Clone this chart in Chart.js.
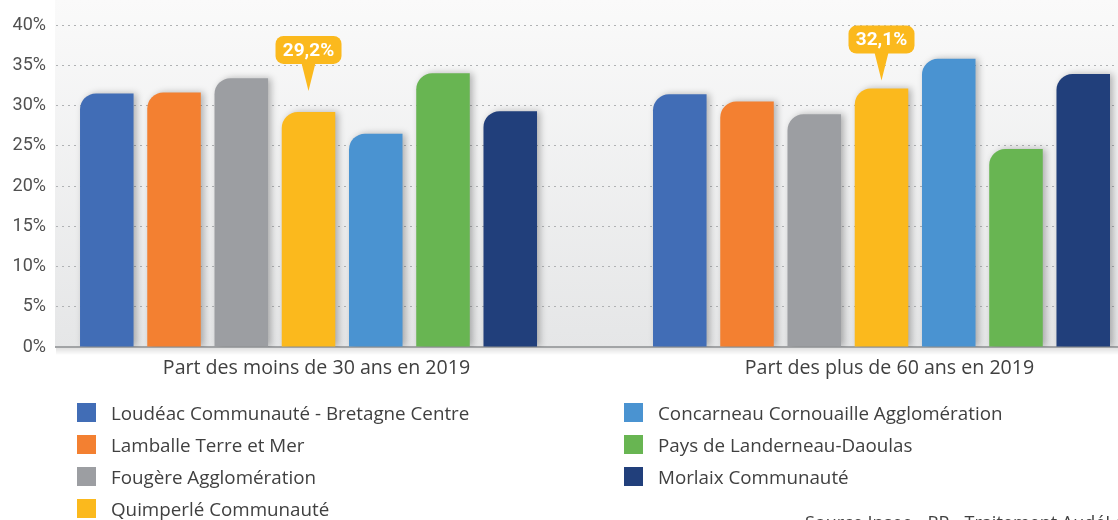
<!DOCTYPE html>
<html>
<head>
<meta charset="utf-8">
<script src="https://cdn.jsdelivr.net/npm/chart.js@4/dist/chart.umd.min.js"></script>
<style>
html,body{margin:0;padding:0;background:#fff;overflow:hidden;}
#wrap{position:relative;width:1118px;height:520px;overflow:hidden;}
#c{position:absolute;left:0;top:0;}
.item{position:absolute;display:flex;align-items:center;white-space:nowrap;font-family:'Open Sans',sans-serif;font-size:18.8px;color:#404040;height:19px;}
.sw{width:19px;height:19px;margin-right:15px;flex:none;}
#source{position:absolute;left:805px;top:510px;font-family:'Open Sans',sans-serif;font-size:18px;color:#404040;white-space:nowrap;}
</style>
</head>
<body>
<div id="wrap">
<canvas id="c" width="1118" height="520"></canvas>
<div id="legend"></div>
<div id="source">Source Insee - RP - Traitement AudéLor</div>
</div>
<script>
// ---- data ----
const categories = ['Part des moins de 30 ans en 2019', 'Part des plus de 60 ans en 2019'];
const territories = [
  'Loudéac Communauté - Bretagne Centre',
  'Lamballe Terre et Mer',
  'Fougère Agglomération',
  'Quimperlé Communauté',
  'Concarneau Cornouaille Agglomération',
  'Pays de Landerneau-Daoulas',
  'Morlaix Communauté'
];
const loudeac    = [31.5, 31.4];
const lamballe   = [31.6, 30.5];
const fougere    = [33.4, 28.9];
const quimperle  = [29.2, 32.1];
const concarneau = [26.5, 35.8];
const landerneau = [34.0, 24.6];
const morlaix    = [29.3, 33.9];
const yTicks = [0, 5, 10, 15, 20, 25, 30, 35, 40];
const highlighted = [[3, 0], [3, 1]]; // [series index, category index]

const seriesValues = [loudeac, lamballe, fougere, quimperle, concarneau, landerneau, morlaix];
const colors = ['#416db6', '#f38031', '#9c9ea2', '#fbb91d', '#4a93d1', '#68b552', '#213f7b'];
const calloutGaps = [21, 8];

const datasets = territories.map((name, i) => ({
  label: name,
  data: seriesValues[i].map((v, j) => ({x: j + 1, y: v})),
  backgroundColor: colors[i],
  borderRadius: {topLeft: 16, topRight: 0, bottomLeft: 0, bottomRight: 0},
  borderSkipped: 'start'
}));

const FONT = "'Open Sans', sans-serif";
const NUMFONT = 'Roboto, sans-serif';

const bgPlugin = {
  id: 'bg',
  beforeDraw(chart) {
    const {ctx, chartArea: a} = chart;
    const g = ctx.createLinearGradient(0, 0, 0, a.bottom);
    g.addColorStop(0, '#fafafa');
    g.addColorStop(1, '#e5e6e7');
    ctx.save();
    ctx.fillStyle = g;
    ctx.fillRect(a.left - 1, 0, a.right - a.left + 1, a.bottom);
    ctx.restore();
  }
};

const shadowPlugin = {
  id: 'barShadow',
  beforeDatasetsDraw(chart) {
    const ctx = chart.ctx;
    ctx.save();
    ctx.shadowColor = 'rgba(0,0,0,0.28)';
    ctx.shadowBlur = 7;
    ctx.shadowOffsetX = 3;
    ctx.shadowOffsetY = 0;
  },
  afterDatasetsDraw(chart) {
    chart.ctx.restore();
  }
};

const calloutPlugin = {
  id: 'callouts',
  afterDraw(chart) {
    const {ctx, chartArea: a} = chart;
    const sg = ctx.createLinearGradient(0, a.bottom + 1, 0, a.bottom + 8);
    sg.addColorStop(0, 'rgba(0,0,0,0.12)');
    sg.addColorStop(1, 'rgba(0,0,0,0)');
    ctx.save();
    ctx.fillStyle = sg;
    ctx.fillRect(a.left, a.bottom + 1, a.right - a.left, 7);
    ctx.restore();

    highlighted.forEach(([s, g], k) => {
      const el = chart.getDatasetMeta(s).data[g];
      const value = seriesValues[s][g];
      const text = value.toFixed(1).replace('.', ',') + '%';
      const tipX = el.x, tipY = el.y - calloutGaps[k];
      const boxW = 66, boxH = 28, triH = 27, triHalf = 7, r = 8;
      const bx = tipX - boxW / 2, by = tipY - triH - boxH;
      ctx.save();
      ctx.fillStyle = colors[s];
      ctx.beginPath();
      ctx.roundRect(bx, by, boxW, boxH, r);
      ctx.fill();
      ctx.beginPath();
      ctx.moveTo(tipX - triHalf, by + boxH - 1);
      ctx.lineTo(tipX + triHalf, by + boxH - 1);
      ctx.lineTo(tipX, tipY);
      ctx.closePath();
      ctx.fill();
      ctx.fillStyle = '#ffffff';
      ctx.font = 'bold 19px ' + NUMFONT;
      ctx.textAlign = 'center';
      ctx.textBaseline = 'middle';
      ctx.fillText(text, tipX, by + boxH / 2 + 1);
      ctx.restore();
    });
  }
};

const chart = new Chart(document.getElementById('c'), {
  type: 'bar',
  data: {datasets},
  options: {
    responsive: false,
    animation: false,
    layout: {padding: {top: 25, right: 0, bottom: 0, left: 0}},
    plugins: {legend: {display: false}, tooltip: {enabled: false}},
    datasets: {bar: {categoryPercentage: 0.8215, barPercentage: 0.796}},
    scales: {
      x: {
        type: 'linear',
        offset: false,
        min: 0.5593,
        max: 2.41274,
        z: 1,
        afterBuildTicks: s => { s.ticks = categories.map((c, i) => ({value: i + 1})); },
        afterFit: s => { s.height = 173; },
        grid: {display: false, drawTicks: false},
        border: {display: true, color: '#a2a4a6', width: 2},
        ticks: {
          callback: v => categories[v - 1] || '',
          font: {family: FONT, size: 19.6},
          color: '#404040',
          padding: 10,
          labelOffset: 8,
          maxRotation: 0,
          autoSkip: false
        }
      },
      y: {
        min: 0,
        max: 40,
        afterBuildTicks: s => { s.ticks = yTicks.map(v => ({value: v})); },
        afterFit: s => { s.width = 56; },
        grid: {
          color: c => (c.tick && c.tick.value === 0) ? 'rgba(0,0,0,0)' : '#b0b2b4',
          lineWidth: 1,
          drawTicks: false
        },
        border: {display: false, dash: [2, 4]},
        ticks: {
          callback: v => v + '%',
          font: {family: NUMFONT, size: 18},
          color: '#505050',
          padding: 10
        }
      }
    }
  },
  plugins: [bgPlugin, shadowPlugin, calloutPlugin]
});

// HTML legend built from chart datasets (two columns, column-major)
const legend = document.getElementById('legend');
const colX = [77, 624];
const rowY = [403, 435, 467, 499];
chart.data.datasets.forEach((ds, i) => {
  const col = i < 4 ? 0 : 1;
  const row = i < 4 ? i : i - 4;
  const item = document.createElement('div');
  item.className = 'item';
  item.style.left = colX[col] + 'px';
  item.style.top = rowY[row] + 'px';
  const sw = document.createElement('span');
  sw.className = 'sw';
  sw.style.background = ds.backgroundColor;
  const tx = document.createElement('span');
  tx.textContent = ds.label;
  item.appendChild(sw);
  item.appendChild(tx);
  legend.appendChild(item);
});
</script>
</body>
</html>
